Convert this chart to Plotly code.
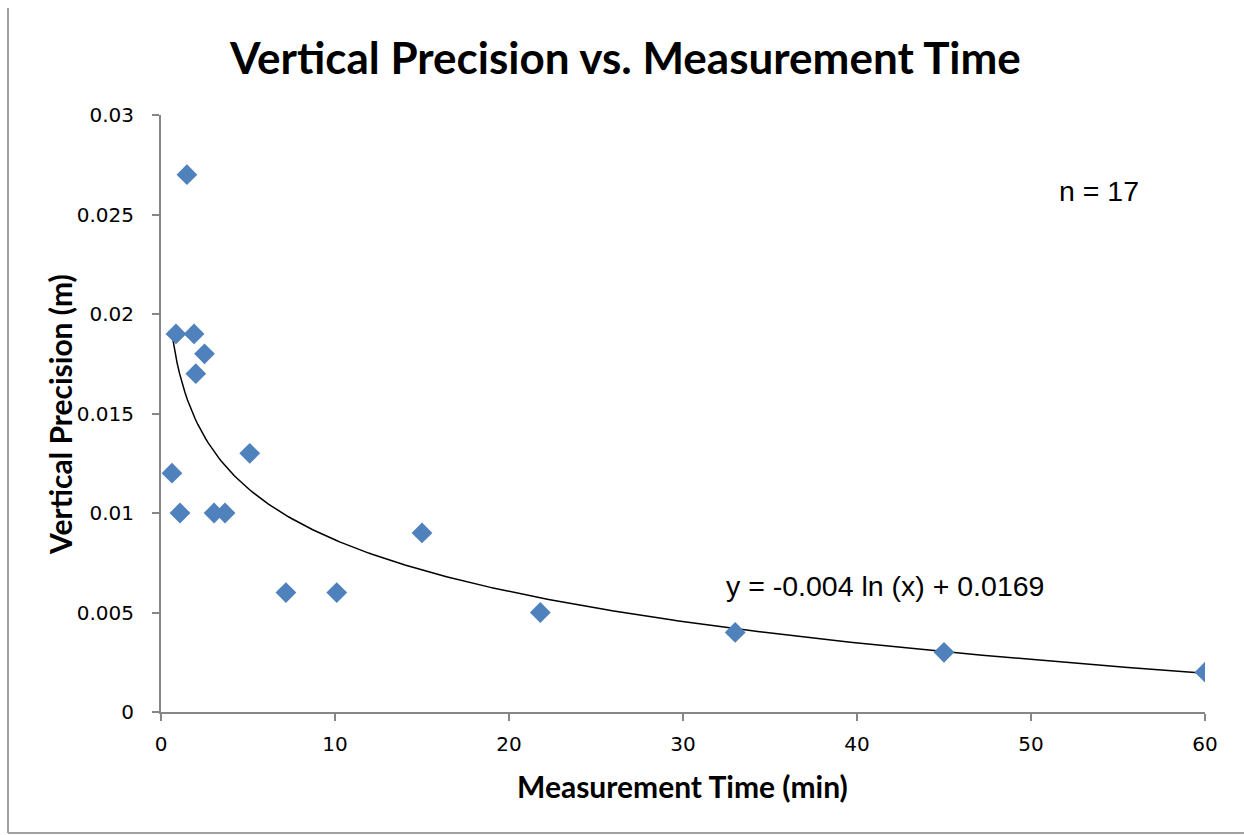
import numpy as np
import plotly.graph_objects as go

# ---- data ----
time_min = [0.63, 0.86, 1.09, 1.49, 1.9, 2.0, 2.5, 3.05, 3.68, 5.1, 7.18, 10.1, 15.0, 21.8, 33.0, 45.0, 60.0]
precision_m = [0.012, 0.019, 0.010, 0.027, 0.019, 0.017, 0.018, 0.010, 0.010, 0.013,
               0.006, 0.006, 0.009, 0.005, 0.004, 0.003, 0.002]
x_ticks = [0, 10, 20, 30, 40, 50, 60]
y_ticks = [0, 0.005, 0.01, 0.015, 0.02, 0.025, 0.03]
y_tick_labels = ["0", "0.005", "0.01", "0.015", "0.02", "0.025", "0.03"]
title_text = "Vertical Precision vs. Measurement Time"
x_title = "Measurement Time (min)"
y_title = "Vertical Precision (m)"
eq_text = "y = -0.004 ln (x) + 0.0169"
n_text = "n = 17"

# logarithmic trendline (least squares on ln x), as a spreadsheet would do
xa = np.array(time_min)
ya = np.array(precision_m)
slope, intercept = np.polyfit(np.log(xa), ya, 1)
xt = np.linspace(xa.min(), xa.max(), 400)
yt = slope * np.log(xt) + intercept

# ---- layout geometry (pixels) ----
W, H = 1244, 835
L, R, T, B = 161, 39, 115, 123
pw, ph = W - L - R, H - T - B

def px_x(p):
    return (p - L) / pw

def px_y(p):
    return (H - B - p) / ph

AX = "#868686"
TICK_FONT = dict(family="DejaVu Sans", size=20, color="black")

fig = go.Figure()
fig.add_trace(go.Scatter(x=xt, y=yt, mode="lines",
                         line=dict(color="black", width=1.5), hoverinfo="skip",
                         showlegend=False))
fig.add_trace(go.Scatter(x=time_min, y=precision_m, mode="markers",
                         marker=dict(symbol="diamond", size=16, color="#4F81BD",
                                     line=dict(width=0)),
                         showlegend=False))

fig.update_layout(
    width=W, height=H, autosize=False,
    margin=dict(l=L, r=R, t=T, b=B),
    paper_bgcolor="white", plot_bgcolor="white",
    showlegend=False,
    font=dict(family="Lato", color="black"),
)
fig.update_xaxes(range=[0, 60], tickvals=x_ticks, ticktext=[str(v) for v in x_ticks],
                 showgrid=False, zeroline=False, showline=True, linecolor=AX, linewidth=2,
                 ticks="outside", ticklen=7, tickwidth=2, tickcolor=AX,
                 tickfont=TICK_FONT, ticklabelstandoff=6)
fig.update_yaxes(range=[0, 0.03], tickvals=y_ticks, ticktext=y_tick_labels,
                 showgrid=False, zeroline=False, showline=True, linecolor=AX, linewidth=2,
                 ticks="outside", ticklen=7, tickwidth=2, tickcolor=AX,
                 tickfont=TICK_FONT, ticklabelstandoff=14)

ann = [
    dict(text="<b>" + title_text + "</b>", x=px_x(625), y=px_y(57), xref="paper", yref="paper",
         xanchor="center", yanchor="middle", showarrow=False,
         font=dict(family="Lato", size=44, color="black")),
    dict(text="<b>" + x_title + "</b>", x=px_x(682), y=px_y(786), xref="paper", yref="paper",
         xanchor="center", yanchor="middle", showarrow=False,
         font=dict(family="Lato", size=30, color="black")),
    dict(text="<b>" + y_title + "</b>", x=px_x(60), y=px_y(415), xref="paper", yref="paper",
         xanchor="center", yanchor="middle", showarrow=False, textangle=-90,
         font=dict(family="Lato", size=30, color="black")),
    dict(text=eq_text, x=px_x(724), y=px_y(586), xref="paper", yref="paper",
         xanchor="left", yanchor="middle", showarrow=False,
         font=dict(family="Liberation Sans", size=28.5, color="black")),
    dict(text=n_text, x=px_x(1057), y=px_y(191), xref="paper", yref="paper",
         xanchor="left", yanchor="middle", showarrow=False,
         font=dict(family="Liberation Sans", size=28.5, color="black")),
]
fig.update_layout(annotations=ann)

# sheet frame lines (left and bottom edges of the chart frame)
fig.add_shape(type="line", xref="paper", yref="paper",
              x0=px_x(8), x1=px_x(8), y0=px_y(8), y1=px_y(833),
              line=dict(color="#A0A0A0", width=2))
fig.add_shape(type="line", xref="paper", yref="paper",
              x0=px_x(8), x1=px_x(1244), y0=px_y(833), y1=px_y(833),
              line=dict(color="#A0A0A0", width=2))

fig.write_html("out.html")
